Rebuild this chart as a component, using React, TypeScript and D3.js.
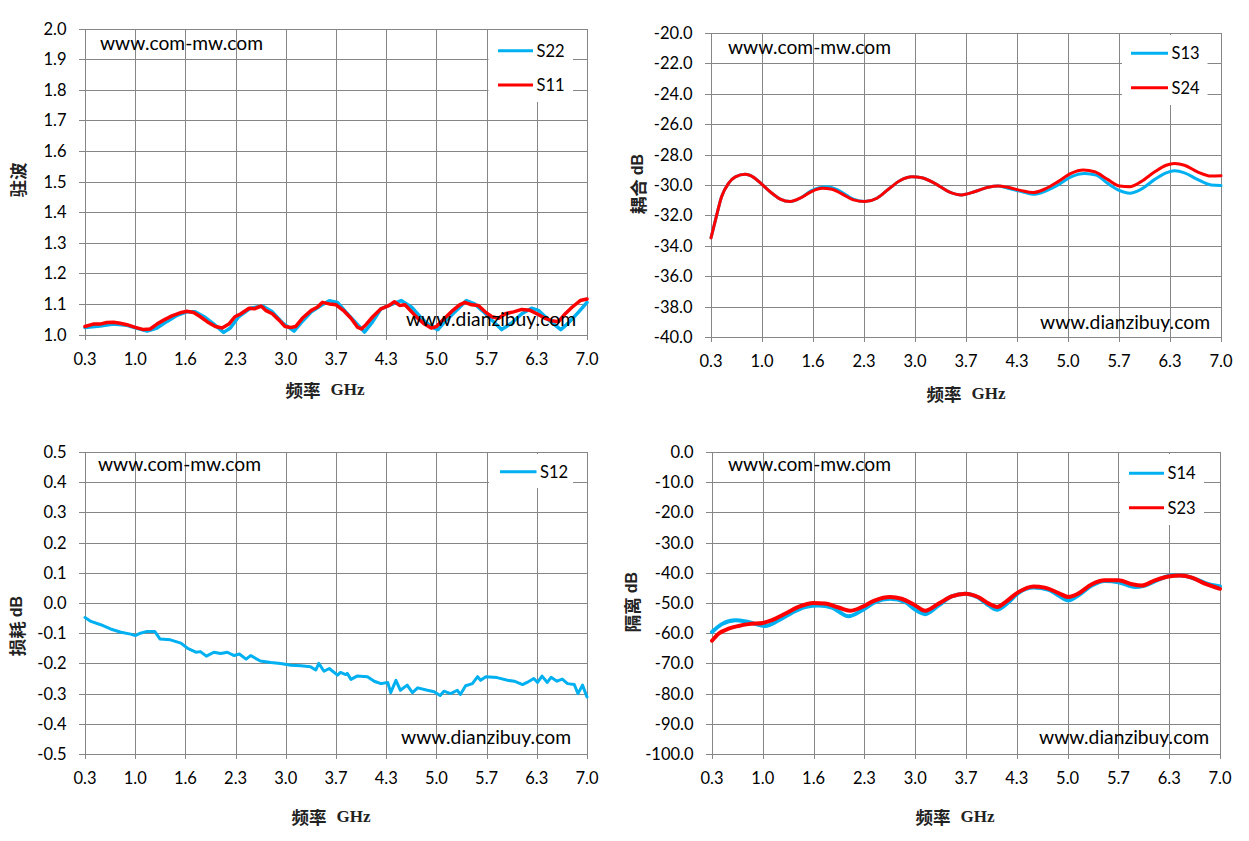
import * as d3 from 'd3';

// shared frequency axis (GHz), 10 equal steps from 0.3 to 7.0
const xTicks = [0.3, 0.97, 1.64, 2.31, 2.98, 3.65, 4.32, 4.99, 5.66, 6.33, 7.0];
const xTickLabels = ['0.3', '1.0', '1.6', '2.3', '3.0', '3.7', '4.3', '5.0', '5.7', '6.3', '7.0'];

const vswrTicks = [1.0, 1.1, 1.2, 1.3, 1.4, 1.5, 1.6, 1.7, 1.8, 1.9, 2.0];
const couplingTicks = [-40, -38, -36, -34, -32, -30, -28, -26, -24, -22, -20];
const lossTicks = [-0.5, -0.4, -0.3, -0.2, -0.1, 0, 0.1, 0.2, 0.3, 0.4, 0.5];
const isolationTicks = [-100, -90, -80, -70, -60, -50, -40, -30, -20, -10, 0];

type Pt = [number, number];

// 驻波
const s22: Pt[] = [
  [0.30, 1.023], [0.50, 1.028], [0.68, 1.034], [0.86, 1.030], [0.96, 1.023], [1.13, 1.011],
  [1.26, 1.021], [1.39, 1.042], [1.53, 1.063], [1.66, 1.074], [1.77, 1.074], [1.89, 1.058],
  [2.02, 1.034], [2.15, 1.007], [2.24, 1.021], [2.35, 1.058], [2.51, 1.086], [2.67, 1.093],
  [2.80, 1.074], [2.94, 1.037], [3.09, 1.011], [3.18, 1.037], [3.32, 1.074], [3.45, 1.095],
  [3.56, 1.110], [3.67, 1.105], [3.78, 1.074], [3.92, 1.037], [4.03, 1.008], [4.14, 1.042],
  [4.25, 1.084], [4.41, 1.100], [4.52, 1.111], [4.66, 1.089], [4.79, 1.053], [4.92, 1.026],
  [5.01, 1.016], [5.12, 1.047], [5.26, 1.079], [5.39, 1.111], [5.50, 1.100], [5.62, 1.074],
  [5.73, 1.047], [5.86, 1.016], [5.99, 1.037], [6.13, 1.068], [6.26, 1.086], [6.35, 1.079],
  [6.49, 1.047], [6.65, 1.016], [6.75, 1.037], [6.89, 1.074], [7.00, 1.105],
];
const s11: Pt[] = [
  [0.30, 1.026], [0.41, 1.034], [0.50, 1.034], [0.59, 1.039], [0.68, 1.040], [0.77, 1.037],
  [0.86, 1.032], [0.96, 1.024], [1.08, 1.016], [1.17, 1.018], [1.26, 1.034], [1.35, 1.047],
  [1.46, 1.061], [1.57, 1.071], [1.66, 1.076], [1.75, 1.072], [1.84, 1.058], [1.93, 1.042],
  [2.04, 1.026], [2.13, 1.021], [2.22, 1.034], [2.30, 1.058], [2.38, 1.068], [2.49, 1.086],
  [2.56, 1.084], [2.65, 1.093], [2.71, 1.079], [2.80, 1.068], [2.89, 1.047], [2.97, 1.026],
  [3.05, 1.023], [3.11, 1.026], [3.20, 1.053], [3.32, 1.079], [3.40, 1.089], [3.47, 1.105],
  [3.56, 1.100], [3.65, 1.097], [3.76, 1.076], [3.85, 1.053], [3.94, 1.023], [3.99, 1.018],
  [4.05, 1.032], [4.14, 1.058], [4.25, 1.084], [4.36, 1.095], [4.43, 1.107], [4.50, 1.095],
  [4.57, 1.097], [4.66, 1.074], [4.74, 1.053], [4.83, 1.034], [4.92, 1.021], [4.99, 1.026],
  [5.10, 1.053], [5.21, 1.079], [5.30, 1.097], [5.37, 1.105], [5.46, 1.097], [5.55, 1.095],
  [5.64, 1.074], [5.73, 1.058], [5.82, 1.053], [5.91, 1.068], [6.02, 1.074], [6.13, 1.082],
  [6.24, 1.079], [6.33, 1.068], [6.44, 1.053], [6.53, 1.045], [6.62, 1.042], [6.71, 1.068],
  [6.80, 1.089], [6.91, 1.111], [7.00, 1.116],
];

// 耦合 dB
const s13: Pt[] = [
  [0.30, -33.48], [0.36, -32.28], [0.44, -30.76], [0.53, -29.89], [0.62, -29.46], [0.75, -29.30],
  [0.86, -29.50], [0.97, -29.96], [1.10, -30.54], [1.21, -30.93], [1.34, -31.09], [1.47, -30.87],
  [1.62, -30.37], [1.82, -30.11], [1.97, -30.33], [2.17, -30.93], [2.32, -31.09], [2.48, -30.87],
  [2.63, -30.28], [2.78, -29.72], [2.94, -29.46], [3.07, -29.52], [3.24, -29.89], [3.42, -30.43],
  [3.59, -30.65], [3.77, -30.43], [3.94, -30.15], [4.07, -30.07], [4.20, -30.22], [4.38, -30.43],
  [4.53, -30.61], [4.68, -30.43], [4.86, -30.00], [5.03, -29.46], [5.21, -29.24], [5.36, -29.35],
  [5.51, -29.89], [5.67, -30.37], [5.80, -30.54], [5.95, -30.28], [6.13, -29.63], [6.28, -29.20],
  [6.39, -29.07], [6.52, -29.20], [6.69, -29.63], [6.87, -30.00], [7.00, -30.04],
];
const s24: Pt[] = [
  [0.30, -33.48], [0.36, -32.28], [0.44, -30.76], [0.53, -29.89], [0.62, -29.46], [0.75, -29.30],
  [0.86, -29.50], [0.97, -29.96], [1.10, -30.54], [1.21, -30.93], [1.34, -31.09], [1.47, -30.87],
  [1.62, -30.43], [1.76, -30.22], [1.89, -30.28], [2.02, -30.59], [2.17, -30.98], [2.32, -31.09],
  [2.48, -30.87], [2.63, -30.28], [2.78, -29.72], [2.94, -29.46], [3.07, -29.52], [3.24, -29.89],
  [3.42, -30.43], [3.59, -30.65], [3.77, -30.43], [3.94, -30.15], [4.07, -30.07], [4.20, -30.15],
  [4.38, -30.37], [4.53, -30.50], [4.68, -30.28], [4.86, -29.78], [5.03, -29.24], [5.19, -29.02],
  [5.34, -29.13], [5.51, -29.63], [5.67, -30.07], [5.80, -30.11], [5.95, -29.78], [6.13, -29.13],
  [6.28, -28.70], [6.39, -28.59], [6.52, -28.70], [6.69, -29.13], [6.87, -29.41], [7.00, -29.39],
];

// 损耗 dB
const s12: Pt[] = [
  [0.30, -0.048], [0.38, -0.061], [0.51, -0.072], [0.64, -0.086], [0.78, -0.097], [0.91, -0.103],
  [0.97, -0.108], [1.04, -0.100], [1.13, -0.094], [1.23, -0.094], [1.30, -0.119], [1.44, -0.122],
  [1.58, -0.133], [1.67, -0.150], [1.78, -0.163], [1.84, -0.161], [1.92, -0.176], [2.02, -0.163],
  [2.11, -0.167], [2.20, -0.163], [2.29, -0.174], [2.36, -0.169], [2.45, -0.186], [2.51, -0.174],
  [2.64, -0.192], [2.78, -0.197], [2.91, -0.200], [3.05, -0.206], [3.18, -0.208], [3.31, -0.211],
  [3.38, -0.222], [3.42, -0.200], [3.49, -0.226], [3.56, -0.217], [3.67, -0.239], [3.71, -0.230],
  [3.78, -0.237], [3.80, -0.233], [3.85, -0.253], [3.93, -0.242], [4.07, -0.244], [4.16, -0.259],
  [4.25, -0.267], [4.34, -0.263], [4.38, -0.297], [4.45, -0.256], [4.51, -0.289], [4.60, -0.272],
  [4.67, -0.297], [4.74, -0.281], [4.87, -0.289], [4.96, -0.294], [5.04, -0.306], [5.09, -0.292],
  [5.18, -0.300], [5.27, -0.289], [5.31, -0.303], [5.38, -0.274], [5.47, -0.267], [5.54, -0.244],
  [5.58, -0.256], [5.65, -0.244], [5.80, -0.247], [5.94, -0.256], [6.03, -0.259], [6.14, -0.270],
  [6.20, -0.263], [6.29, -0.250], [6.34, -0.263], [6.40, -0.242], [6.47, -0.263], [6.52, -0.246],
  [6.60, -0.259], [6.67, -0.252], [6.74, -0.267], [6.83, -0.270], [6.88, -0.300], [6.94, -0.272],
  [7.00, -0.311],
];

// 隔离 dB
const s14: Pt[] = [
  [0.30, -59.6], [0.43, -57.0], [0.61, -55.7], [0.78, -56.3], [1.00, -57.6], [1.18, -55.7],
  [1.35, -53.3], [1.53, -51.3], [1.71, -50.8], [1.88, -51.5], [2.10, -54.4], [2.28, -52.4],
  [2.45, -49.7], [2.65, -48.6], [2.85, -49.7], [2.98, -52.2], [3.11, -53.7], [3.29, -50.8],
  [3.46, -47.8], [3.64, -46.9], [3.81, -48.2], [3.95, -50.8], [4.06, -52.2], [4.19, -50.2],
  [4.34, -46.7], [4.54, -44.9], [4.74, -45.6], [4.87, -47.5], [5.00, -49.1], [5.13, -47.5],
  [5.31, -44.2], [5.48, -42.7], [5.66, -43.1], [5.88, -44.7], [6.01, -44.2], [6.19, -42.3],
  [6.36, -40.9], [6.49, -40.9], [6.67, -42.0], [6.85, -43.8], [7.00, -44.5],
];
const s23: Pt[] = [
  [0.30, -62.5], [0.39, -60.1], [0.52, -58.5], [0.65, -57.6], [0.78, -57.0], [0.97, -56.6],
  [1.09, -55.7], [1.27, -53.5], [1.44, -51.3], [1.64, -50.0], [1.79, -50.2], [1.97, -51.5],
  [2.12, -52.6], [2.28, -51.3], [2.45, -49.1], [2.65, -48.0], [2.80, -48.6], [2.98, -50.8],
  [3.11, -52.6], [3.29, -50.2], [3.46, -47.8], [3.64, -46.9], [3.81, -48.0], [3.95, -50.2],
  [4.06, -51.3], [4.17, -49.7], [4.34, -46.4], [4.54, -44.5], [4.69, -44.9], [4.87, -46.7],
  [5.00, -48.0], [5.13, -46.9], [5.31, -43.8], [5.48, -42.5], [5.66, -42.5], [5.84, -43.8],
  [5.97, -44.2], [6.14, -42.5], [6.32, -41.2], [6.47, -40.9], [6.63, -41.6], [6.80, -43.6],
  [7.00, -45.3],
];

const BLUE = '#00B0F0';
const RED = '#FF0000';
const GRID = '#868686';
const TICK_FONT = 'Lato, "Noto Sans", sans-serif';
const CJK_FONT = '"Noto Sans CJK SC", "Noto Sans", sans-serif';

interface Series { name: string; color: string; data: Pt[] }

interface PanelCfg {
  left: number; right: number; top: number; bottom: number;
  yDomain: [number, number];
  yTicks: number[];
  yFmt: (v: number) => string;
  series: Series[];           // draw order
  legendOrder: string[];
  lineWidth: number;
  curve: d3.CurveFactory;
  yTitle: string;
  yTitleUnit?: string;
  yTitlePos: [number, number];
  xTitlePos: [number, number];
  wmTop: [number, number];
  wmBottom: [number, number];
  legendBox: [number, number, number, number];
  legendRows: number[];
  legendLine: [number, number];
}

function Panel({ cfg }: { cfg: PanelCfg }) {
  const x = d3.scaleLinear().domain([0.3, 7.0]).range([cfg.left, cfg.right]);
  const y = d3.scaleLinear().domain(cfg.yDomain).range([cfg.bottom, cfg.top]);
  const line = d3.line<Pt>().x(d => x(d[0])).y(d => y(d[1])).curve(cfg.curve);
  const snap = (v: number) => Math.round(v) + 0.5;
  const [lx0, ly0, lx1, ly1] = cfg.legendBox;
  const byName = new Map(cfg.series.map(s => [s.name, s]));

  return (
    <g>
      {/* grid + ticks */}
      {cfg.yTicks.map(t => (
        <line key={'gy' + t} x1={cfg.left - 6} x2={cfg.right} y1={snap(y(t))} y2={snap(y(t))}
          stroke={GRID} strokeWidth={1} shapeRendering="crispEdges" />
      ))}
      {xTicks.map(t => (
        <line key={'gx' + t} x1={snap(x(t))} x2={snap(x(t))} y1={cfg.top} y2={cfg.bottom + 5}
          stroke={GRID} strokeWidth={1} shapeRendering="crispEdges" />
      ))}

      {/* tick labels */}
      {cfg.yTicks.map(t => (
        <text key={'ly' + t} x={cfg.left - 18.5} y={y(t)} textAnchor="end" dominantBaseline="central"
          fontFamily={TICK_FONT} fontSize={16.5} fill="#000">{cfg.yFmt(t)}</text>
      ))}
      {xTicks.map((t, i) => (
        <text key={'lx' + t} x={x(t)} y={cfg.bottom + 24} textAnchor="middle" dominantBaseline="central"
          fontFamily={TICK_FONT} fontSize={16.5} fill="#000">{xTickLabels[i]}</text>
      ))}

      {/* curves */}
      {cfg.series.map(s => (
        <path key={s.name} d={line(s.data) ?? ''} fill="none" stroke={s.color}
          strokeWidth={cfg.lineWidth} strokeLinejoin="round" strokeLinecap="round" />
      ))}

      {/* legend */}
      <rect x={lx0} y={ly0} width={lx1 - lx0} height={ly1 - ly0} fill="#fff" />
      {cfg.legendOrder.map((name, i) => {
        const s = byName.get(name)!;
        const ly = cfg.legendRows[i];
        return (
          <g key={'lg' + name}>
            <line x1={cfg.legendLine[0]} x2={cfg.legendLine[1]} y1={ly} y2={ly} stroke={s.color} strokeWidth={3} />
            <text x={cfg.legendLine[1] + 3.5} y={ly} dominantBaseline="central" fontFamily={TICK_FONT}
              fontSize={16.5} fill="#000">{name}</text>
          </g>
        );
      })}

      {/* watermarks */}
      <text x={cfg.wmTop[0]} y={cfg.wmTop[1]} fontFamily={TICK_FONT} fontSize={19} fill="#000"
        textLength={163} lengthAdjust="spacingAndGlyphs">www.com-mw.com</text>
      <text x={cfg.wmBottom[0]} y={cfg.wmBottom[1]} fontFamily={TICK_FONT} fontSize={19} fill="#000"
        textLength={170} lengthAdjust="spacingAndGlyphs">www.dianzibuy.com</text>

      {/* axis titles */}
      <text x={cfg.xTitlePos[0]} y={cfg.xTitlePos[1]} textAnchor="middle" dominantBaseline="central"
        fontWeight="bold" fill="#222">
        <tspan fontFamily={CJK_FONT} fontSize={17.5}>频率</tspan>
        <tspan fontFamily='"Liberation Serif", "DejaVu Serif", serif' fontSize={17} dx={10}>GHz</tspan>
      </text>
      <text transform={`translate(${cfg.yTitlePos[0]},${cfg.yTitlePos[1]}) rotate(-90)`} textAnchor="middle"
        dominantBaseline="central" fontWeight="bold" fill="#222">
        <tspan fontFamily={CJK_FONT} fontSize={17.5}>{cfg.yTitle}</tspan>
        {cfg.yTitleUnit && (
          <tspan fontFamily='"Liberation Sans", Arial, sans-serif' fontSize={16} dx={4}>{cfg.yTitleUnit}</tspan>
        )}
      </text>
    </g>
  );
}

const panels: PanelCfg[] = [
  {
    left: 85, right: 587, top: 28.5, bottom: 334.5,
    yDomain: [1.0, 2.0], yTicks: vswrTicks, yFmt: v => v.toFixed(1),
    series: [{ name: 'S22', color: BLUE, data: s22 }, { name: 'S11', color: RED, data: s11 }],
    legendOrder: ['S22', 'S11'],
    lineWidth: 3.5, curve: d3.curveLinear,
    yTitle: '驻波', yTitlePos: [17, 180], xTitlePos: [325, 389],
    wmTop: [100, 50], wmBottom: [406, 326],
    legendBox: [488.5, 30, 573, 102], legendRows: [50.7, 85], legendLine: [498, 533],
  },
  {
    left: 711, right: 1221, top: 33, bottom: 337,
    yDomain: [-40, -20], yTicks: couplingTicks, yFmt: v => v.toFixed(1),
    series: [{ name: 'S13', color: BLUE, data: s13 }, { name: 'S24', color: RED, data: s24 }],
    legendOrder: ['S13', 'S24'],
    lineWidth: 3, curve: d3.curveMonotoneX,
    yTitle: '耦合', yTitleUnit: 'dB', yTitlePos: [637, 184], xTitlePos: [966, 393],
    wmTop: [728, 53.5], wmBottom: [1040, 329],
    legendBox: [1122, 35, 1207.5, 105], legendRows: [53.3, 87.7], legendLine: [1131, 1168],
  },
  {
    left: 85, right: 587, top: 452, bottom: 754,
    yDomain: [-0.5, 0.5], yTicks: lossTicks, yFmt: v => v.toFixed(1),
    series: [{ name: 'S12', color: BLUE, data: s12 }],
    legendOrder: ['S12'],
    lineWidth: 3, curve: d3.curveLinear,
    yTitle: '损耗', yTitleUnit: 'dB', yTitlePos: [16, 626], xTitlePos: [331, 816],
    wmTop: [98, 471], wmBottom: [401, 744],
    legendBox: [489, 454, 573, 488], legendRows: [471.7], legendLine: [500, 536.5],
  },
  {
    left: 712, right: 1220, top: 452, bottom: 754,
    yDomain: [-100, 0], yTicks: isolationTicks, yFmt: v => v.toFixed(1),
    series: [{ name: 'S14', color: BLUE, data: s14 }, { name: 'S23', color: RED, data: s23 }],
    legendOrder: ['S14', 'S23'],
    lineWidth: 4, curve: d3.curveMonotoneX,
    yTitle: '隔离', yTitleUnit: 'dB', yTitlePos: [631, 602], xTitlePos: [955, 816],
    wmTop: [728, 471], wmBottom: [1039, 744],
    legendBox: [1120, 454, 1204, 525], legendRows: [473.3, 507.7], legendLine: [1129, 1164],
  },
];

export default function App() {
  return (
    <svg width={1249} height={841} viewBox="0 0 1249 841"
      style={{ position: 'absolute', left: 0, top: 0, background: '#fff' }}>
      <rect width={1249} height={841} fill="#fff" />
      {panels.map((p, i) => <Panel key={i} cfg={p} />)}
    </svg>
  );
}
